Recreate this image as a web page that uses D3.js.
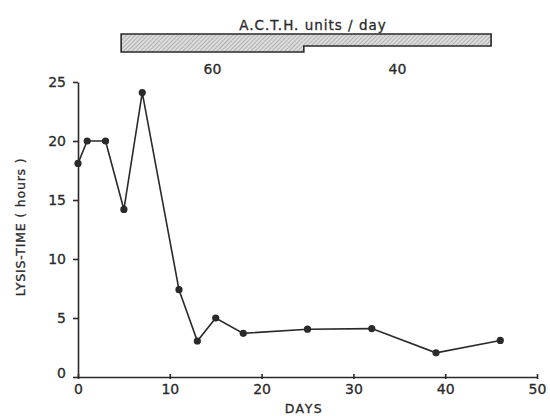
<!DOCTYPE html>
<html>
<head>
<meta charset="utf-8">
<script src="https://cdn.jsdelivr.net/npm/d3@7"></script>
<style>
  body { margin: 0; background: #fff; }
  text { font-family: "DejaVu Sans", sans-serif; fill: #2a2a2a; }
</style>
</head>
<body>
<div id="chart"></div>
<script>
const width = 550;
const height = 416;

// lysis-time readings
const days = [0, 1, 3, 5, 7, 11, 13, 15, 18, 25, 32, 39, 46];
const lysisHours = [18.1, 20, 20, 14.2, 24.1, 7.4, 3.05, 5.0, 3.7, 4.05, 4.1, 2.05, 3.1];

// ACTH dosage periods
const doseStart = [4.7, 24.6];
const doseEnd = [24.6, 45];
const doseUnits = [60, 40];

const xTicks = [0, 10, 20, 30, 40, 50];
const yTicks = [0, 5, 10, 15, 20, 25];

const data = days.map((d, i) => ({ day: d, hours: lysisHours[i] }));
const doses = doseUnits.map((u, i) => ({ from: doseStart[i], to: doseEnd[i], units: u }));

const x = d3.scaleLinear().domain([0, 50]).range([78, 537]);
const y = d3.scaleLinear().domain([0, 25]).range([377, 82]);
const barH = d3.scaleLinear().domain([0, 60]).range([0, 18]);

const svg = d3.select("#chart")
  .append("svg")
    .attr("width", width)
    .attr("height", height);

// hatching for the dose bar
const pat = svg.append("defs").append("pattern")
  .attr("id", "hatch")
  .attr("patternUnits", "userSpaceOnUse")
  .attr("width", 3)
  .attr("height", 3)
  .attr("patternTransform", "rotate(45)");
pat.append("rect").attr("width", 3).attr("height", 3).attr("fill", "#dcdcdc");
pat.append("line")
  .attr("x1", 0).attr("y1", 0).attr("x2", 0).attr("y2", 3)
  .attr("stroke", "#909090").attr("stroke-width", 1.1);

const barTop = 34;

svg.selectAll(".dose")
  .data(doses)
  .join("rect")
    .attr("class", "dose")
    .attr("x", d => x(d.from))
    .attr("y", barTop)
    .attr("width", d => x(d.to) - x(d.from))
    .attr("height", d => barH(d.units))
    .attr("fill", "url(#hatch)");

// outline of the stepped bar
const outline = [];
doses.forEach(d => {
  outline.push([x(d.from), barTop + barH(d.units)]);
  outline.push([x(d.to), barTop + barH(d.units)]);
});
outline.push([x(doses[doses.length - 1].to), barTop]);
outline.push([x(doses[0].from), barTop]);
svg.append("path")
  .attr("d", d3.line()(outline) + "Z")
  .attr("fill", "none")
  .attr("stroke", "#2a2a2a")
  .attr("stroke-width", 1.6);

svg.selectAll(".dose-label")
  .data(doses)
  .join("text")
    .attr("class", "dose-label")
    .attr("x", d => (x(d.from) + x(d.to)) / 2)
    .attr("y", 74)
    .attr("text-anchor", "middle")
    .attr("font-size", 14)
    .attr("stroke", "#2a2a2a").attr("stroke-width", 0.3)
    .text(d => d.units);

svg.append("text")
  .attr("x", 313)
  .attr("y", 30)
  .attr("text-anchor", "middle")
  .attr("font-size", 13.5)
  .attr("letter-spacing", 1)
  .attr("stroke", "#2a2a2a").attr("stroke-width", 0.3)
  .text("A.C.T.H. units / day");

// axes
const xAxis = svg.append("g")
  .attr("transform", `translate(0,${y(0)})`)
  .call(d3.axisBottom(x).tickValues(xTicks).tickSize(2).tickSizeOuter(0).tickPadding(5))
  .call(g => g.selectAll(".tick line").attr("y1", -3).attr("y2", 2));
xAxis.selectAll("path, line").attr("stroke", "#2a2a2a").attr("stroke-width", 1.6);
xAxis.selectAll("text").attr("font-size", 14).attr("fill", "#2a2a2a")
  .attr("stroke", "#2a2a2a").attr("stroke-width", 0.3);

const yAxis = svg.append("g")
  .attr("transform", `translate(${x(0)},0)`)
  .call(d3.axisLeft(y).tickValues(yTicks).tickSize(5).tickSizeOuter(0).tickPadding(7));
yAxis.selectAll("path, line").attr("stroke", "#2a2a2a").attr("stroke-width", 1.6);
yAxis.selectAll("text").attr("font-size", 14).attr("fill", "#2a2a2a")
  .attr("stroke", "#2a2a2a").attr("stroke-width", 0.3);
yAxis.select(".tick text").attr("dy", "0.05em");

svg.append("text")
  .attr("x", 304)
  .attr("y", 413)
  .attr("text-anchor", "middle")
  .attr("font-size", 12.5)
  .attr("letter-spacing", 1.5)
  .attr("stroke", "#2a2a2a").attr("stroke-width", 0.3)
  .text("DAYS");

svg.append("text")
  .attr("transform", "translate(25,227) rotate(-90)")
  .attr("text-anchor", "middle")
  .attr("font-size", 12.5)
  .attr("letter-spacing", 0.8)
  .attr("stroke", "#2a2a2a").attr("stroke-width", 0.3)
  .text("LYSIS-TIME ( hours )");

// the series
const line = d3.line()
  .x(d => x(d.day))
  .y(d => y(d.hours));

svg.append("path")
  .datum(data)
  .attr("fill", "none")
  .attr("stroke", "#2a2a2a")
  .attr("stroke-width", 1.6)
  .attr("d", line);

svg.selectAll(".pt")
  .data(data)
  .join("circle")
    .attr("class", "pt")
    .attr("cx", d => x(d.day))
    .attr("cy", d => y(d.hours))
    .attr("r", 3.6)
    .attr("fill", "#2a2a2a");
</script>
</body>
</html>
